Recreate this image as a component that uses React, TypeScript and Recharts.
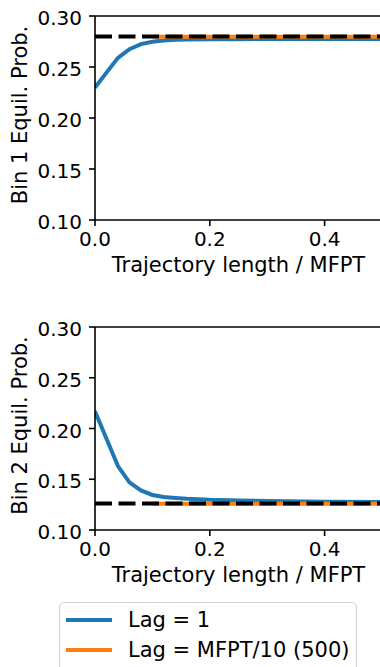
import React from 'react';
import { LineChart, Line, XAxis, YAxis, ReferenceLine } from 'recharts';

const trajLength = [0, 0.02, 0.04, 0.06, 0.08, 0.1, 0.12, 0.14, 0.16, 0.2, 0.25, 0.3, 0.4, 0.5];
const bin1Lag1 = [0.23, 0.2445, 0.259, 0.2675, 0.2725, 0.2748, 0.276, 0.2766, 0.2769, 0.2772, 0.2773, 0.2774, 0.2775, 0.2775];
const bin2Lag1 = [0.217, 0.19, 0.163, 0.147, 0.139, 0.1345, 0.1325, 0.1315, 0.1307, 0.1297, 0.1291, 0.1285, 0.1278, 0.1275];
const lagLongLength = [0.1, 0.2, 0.3, 0.4, 0.5];
const bin1LagLong = [0.2797, 0.2797, 0.2797, 0.2797, 0.2797];
const bin2LagLong = [0.1258, 0.1258, 0.1258, 0.1258, 0.1258];
const refLength = [0, 0.5];
const bin1Ref = [0.28, 0.28];
const bin2Ref = [0.126, 0.126];
const xTicks = [0, 0.2, 0.4];
const yTicks = [0.1, 0.15, 0.2, 0.25, 0.3];
const seriesNames = ['Lag = 1', 'Lag = MFPT/10 (500)'];
const seriesColors = ['#1f77b4', '#ff7f0e'];

const FONT = 'DejaVu Sans';
const zip = (xs: number[], ys: number[]) => xs.map((t, i) => ({ t, p: ys[i] }));

const YLabel = (text: string) => (props: any) => {
  const vb = props.viewBox || { x: 0, y: 16, width: 95, height: 204 };
  const bx = vb.x + 26.5;
  const cy = vb.y + vb.height / 2 - 3;
  return (
    <text x={bx} y={cy} transform={`rotate(-90, ${bx}, ${cy})`} textAnchor="middle"
      fontSize={21} fontFamily={FONT} fill="#000">{text}</text>
  );
};

const XLabel = (props: any) => {
  const vb = props.viewBox || { x: 95, y: 220, width: 287, height: 60 };
  return (
    <text x={vb.x + vb.width / 2} y={vb.y + 52} textAnchor="middle"
      fontSize={21} fontFamily={FONT} fill="#000">Trajectory length / MFPT</text>
  );
};

const XTick = (p: any) => (
  <text x={p.x} y={p.y + 13.5} textAnchor="middle" fontSize={20} fontFamily={FONT} fill="#000">
    {Number(p.payload.value).toFixed(1)}
  </text>
);

const YTick = (p: any) => (
  <text x={p.x} y={p.y + 9} textAnchor="end" fontSize={20} fontFamily={FONT} fill="#000">
    {Number(p.payload.value).toFixed(2)}
  </text>
);

function Panel({ lag1, lagLong, refVals, label, top, plotH }: any) {
  return (
    <div style={{ position: 'absolute', left: 0, top }}>
      <LineChart width={382} height={16 + plotH + 60} margin={{ top: 16, right: 0, bottom: 0, left: 0 }}>
        <XAxis type="number" dataKey="t" domain={[0, 0.5]} ticks={xTicks} interval={0}
          height={60} tickSize={6} tickMargin={6} tick={XTick}
          tickLine={{ stroke: '#000', strokeWidth: 1.6 }} axisLine={{ stroke: '#000', strokeWidth: 1.6 }}
          label={XLabel} allowDataOverflow />
        <YAxis type="number" domain={[0.1, 0.3]} ticks={yTicks} interval={0}
          width={95} tickSize={6} tickMargin={7} tick={YTick}
          tickLine={{ stroke: '#000', strokeWidth: 1.6 }} axisLine={{ stroke: '#000', strokeWidth: 1.6 }}
          label={YLabel(label)} allowDataOverflow />
        <ReferenceLine y={0.3} stroke="#000" strokeWidth={1.6} />
        <Line data={zip(trajLength, lag1)} dataKey="p" stroke={seriesColors[0]} strokeWidth={4}
          dot={false} isAnimationActive={false} type="linear" />
        <Line data={zip(lagLongLength, lagLong)} dataKey="p" stroke={seriesColors[1]} strokeWidth={4}
          dot={false} isAnimationActive={false} type="linear" />
        <Line data={zip(refLength, refVals)} dataKey="p" stroke="#000" strokeWidth={4}
          strokeDasharray="17 6.5" dot={false} isAnimationActive={false} type="linear" />
      </LineChart>
    </div>
  );
}

export default function App() {
  return (
    <div style={{ position: 'absolute', left: 0, top: 0, width: 380, height: 667, overflow: 'hidden', background: '#fff', fontFamily: FONT }}>
      <Panel lag1={bin1Lag1} lagLong={bin1LagLong} refVals={bin1Ref} label="Bin 1 Equil. Prob." top={0} plotH={204} />
      <Panel lag1={bin2Lag1} lagLong={bin2LagLong} refVals={bin2Ref} label="Bin 2 Equil. Prob." top={311} plotH={203} />
      <div style={{ position: 'absolute', left: 59, top: 602, width: 298, height: 90, border: '1px solid #d0d0d0', borderRadius: 5, background: '#fff', boxSizing: 'border-box' }}>
        {seriesNames.map((name, i) => (
          <div key={name} style={{ position: 'absolute', left: 6, top: 3.5 + i * 30.5, height: 26, display: 'flex', alignItems: 'center', whiteSpace: 'nowrap' }}>
            <div style={{ width: 46, height: 4, background: seriesColors[i] }} />
            <span style={{ marginLeft: 16, fontSize: 21, lineHeight: '26px', color: '#000', fontFamily: FONT }}>{name}</span>
          </div>
        ))}
      </div>
    </div>
  );
}
